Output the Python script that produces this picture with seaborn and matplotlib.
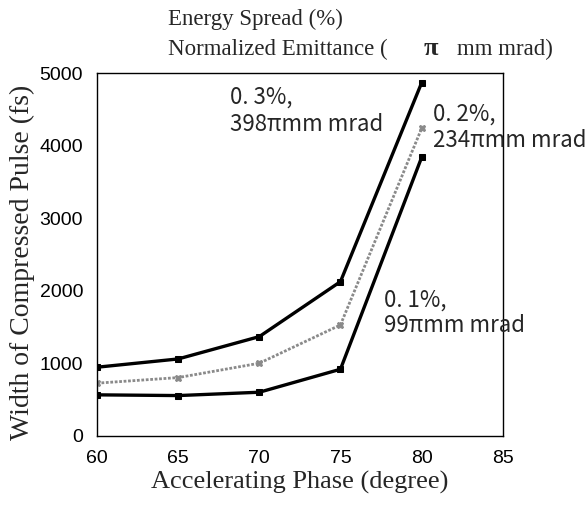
import matplotlib
matplotlib.use("Agg")
import matplotlib.pyplot as plt
import seaborn as sns
import pandas as pd
from matplotlib import font_manager

# ---- data ----
phase = [60, 65, 70, 75, 80]
width_03 = [946, 1060, 1368, 2126, 4867]
width_02 = [726, 803, 1001, 1529, 4238]
width_01 = [565, 555, 601, 918, 3838]
series_names = ["0.3%", "0.2%", "0.1%"]
x_ticks = [60, 65, 70, 75, 80, 85]
y_ticks = [0, 1000, 2000, 3000, 4000, 5000]
labels_03 = ["0. 3%,", "398\u03c0mm mrad"]
labels_02 = ["0. 2%,", "234\u03c0mm mrad"]
labels_01 = ["0. 1%,", "99\u03c0mm mrad"]

sns.set_theme(style="white")
plt.rcParams["font.family"] = ["DejaVu Sans"]

names = [f.name for f in font_manager.fontManager.ttflist]
tick_font = "Liberation Sans Narrow" if "Liberation Sans Narrow" in names else "Liberation Sans"
serif = "Liberation Serif"
cjk = ["Noto Sans CJK JP", "DejaVu Sans"]

df = pd.DataFrame({
    "phase": phase * 3,
    "width": width_03 + width_02 + width_01,
    "series": [series_names[0]] * 5 + [series_names[1]] * 5 + [series_names[2]] * 5,
})

fig = plt.figure(figsize=(5.88, 5.05), dpi=100)
ax = fig.add_axes([0.165, 0.137, 0.690, 0.718])

styles = {
    "0.3%": dict(color="black", lw=2.4, marker="s", ms=5, ls="-"),
    "0.2%": dict(color="#8a8a8a", lw=2.0, marker="X", ms=5, ls=(0, (1, 0.6))),
    "0.1%": dict(color="black", lw=2.4, marker="s", ms=5, ls="-"),
}
for name in series_names:
    sub = df[df["series"] == name]
    st = styles[name]
    sns.lineplot(data=sub, x="phase", y="width", ax=ax, color=st["color"],
                 linewidth=st["lw"], marker=st["marker"], markersize=st["ms"],
                 markeredgecolor=st["color"], linestyle=st["ls"], legend=False)

ax.set_xlim(60, 85)
ax.set_ylim(0, 5000)
ax.set_xticks(x_ticks)
ax.set_yticks(y_ticks)
ax.set_xticklabels([str(t) for t in x_ticks], fontfamily=tick_font, fontsize=14)
ax.set_yticklabels([str(t) for t in y_ticks], fontfamily=tick_font, fontsize=14)
ax.tick_params(direction="in", length=6, width=1, colors="black")
ax.tick_params(axis="y", pad=10)
ax.tick_params(axis="x", pad=10)
for s in ax.spines.values():
    s.set_color("black")
    s.set_linewidth(1.0)

ax.set_xlabel("Accelerating Phase (degree)", fontfamily=serif, fontsize=19, labelpad=3)
ax.set_ylabel("Width of Compressed Pulse (fs)", fontfamily=serif, fontsize=20)
ax.yaxis.set_label_coords(-0.152, 0.479)

# annotations
def put(lines, x, y1, y2):
    ax.text(x, y1, lines[0], fontfamily=cjk, fontsize=16, va="baseline", ha="left")
    ax.text(x, y2, lines[1], fontfamily=cjk, fontsize=16, va="baseline", ha="left")

put(labels_03, 68.2, 4583, 4201)
put(labels_02, 80.7, 4353, 3981)
put(labels_01, 77.7, 1777, 1433)
for t in ax.texts:
    t.set_clip_on(False)

fig.text(168 / 588, 1 - 25 / 505, "Energy Spread (%)", fontfamily=serif, fontsize=16.5, va="baseline")
fig.text(168 / 588, 1 - 55 / 505, "Normalized Emittance (", fontfamily=serif, fontsize=16.5, va="baseline")
fig.text(424 / 588, 1 - 55 / 505, "\u03c0", fontfamily=serif, fontsize=19, va="baseline", fontweight="bold")
fig.text(457 / 588, 1 - 55 / 505, "mm mrad)", fontfamily=serif, fontsize=16.5, va="baseline")

fig.savefig("out.png", dpi=100)
